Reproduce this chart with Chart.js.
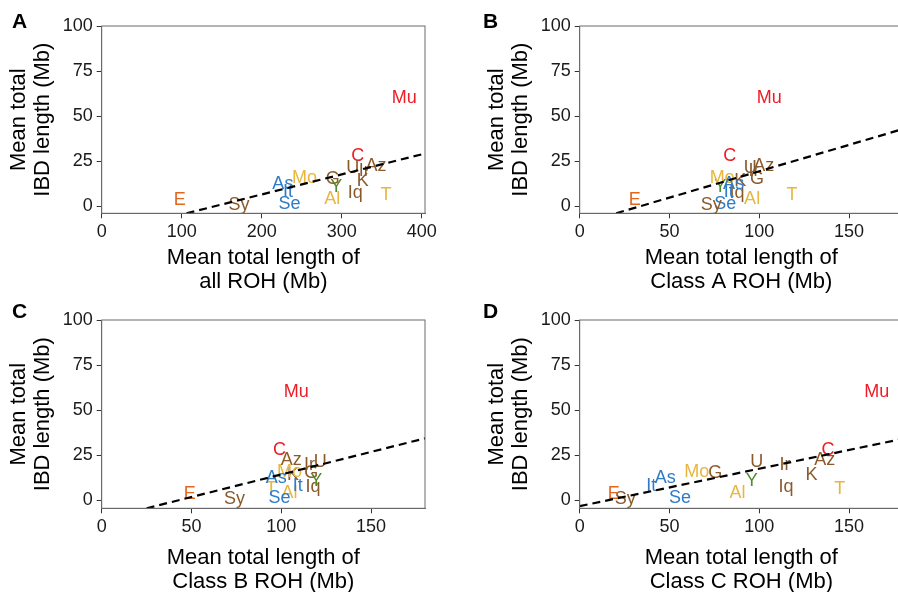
<!DOCTYPE html>
<html>
<head>
<meta charset="utf-8">
<script src="https://cdn.jsdelivr.net/npm/chart.js@4.4.0/dist/chart.umd.min.js"></script>
<style>
  body { margin: 0; width: 898px; height: 592px; overflow: hidden; background: #fff; position: relative;
         font-family: "Liberation Sans", Arial, sans-serif; }
  canvas { position: absolute; }
  .letter { position: absolute; font-size: 21px; font-weight: bold; line-height: 1; color: #000; }
</style>
</head>
<body>
<canvas id="chartA" width="449" height="296" style="left:0;top:0"></canvas>
<canvas id="chartB" width="449" height="296" style="left:478px;top:0"></canvas>
<canvas id="chartC" width="449" height="300" style="left:0;top:296px"></canvas>
<canvas id="chartD" width="449" height="300" style="left:478px;top:296px"></canvas>
<div class="letter" style="left:12px;top:10px">A</div>
<div class="letter" style="left:483px;top:10px">B</div>
<div class="letter" style="left:12px;top:300px">C</div>
<div class="letter" style="left:483px;top:300px">D</div>
<script>
// --- DATA ---
const popCodes = ['Mu', 'C', 'U', 'Az', 'Ir', 'K', 'Iq', 'T', 'G', 'Y', 'Al', 'Mo', 'As', 'It', 'Se', 'Sy', 'E'];
const popColors = ['#ee1c25', '#ee1c25', '#8b5a2b', '#8b5a2b', '#8b5a2b', '#8b5a2b', '#8b5a2b', '#e8b63e',
                   '#8b5a2b', '#4f8a2b', '#e8b63e', '#e8b63e', '#2f7bc6', '#2f7bc6', '#2f7bc6', '#8b5a2b', '#e4661e'];

// mean total IBD length (Mb), same for every panel
const ibdLength = [60.1, 27.9, 21.2, 22.5, 19.5, 13.8, 7.2, 6.3, 15.3, 10.5, 3.7, 15.5, 12.2, 7.8, 1.2, 0.4, 3.4];

// mean total ROH lengths (Mb)
const allRoh  = [378.2, 320, 313.7, 342.9, 328, 326.2, 317, 355.3, 288.8, 293, 288, 253.5, 226.4, 232.7, 234.8, 171.6, 97.6];
const classA  = [105.6, 83.5, 95, 102.5, 97, 89.4, 87.6, 118.2, 98.7, 78.3, 96, 79.3, 85.7, 83, 81.1, 73.2, 30.6];
const classB  = [108.3, 99, 121.7, 105.6, 115.7, 106.5, 117.6, 94.4, 116.7, 119.4, 104.6, 104.6, 97.2, 109.2, 99, 74, 49];
const classC  = [165.4, 138.3, 98.6, 136.5, 114.3, 129.1, 114.8, 144.8, 75.4, 95.8, 87.8, 65.2, 47.6, 39.8, 55.9, 25.4, 18.9];

// regression line end points
const fitAllX = [106, 404],  fitAllY = [-4, 29.2];
const fitAX   = [20.3, 180], fitAY   = [-4, 42.8];
const fitBX   = [25, 180],   fitBY   = [-4.5, 34.3];
const fitCX   = [0, 180],    fitCY   = [-3.3, 34.1];

const yTicks = [0, 25, 50, 75, 100];
const xTicksAll = [0, 100, 200, 300, 400];
const xTicksClass = [0, 50, 100, 150];

// --- PLUGINS ---
const textLabels = {
    id: 'textLabels',
    beforeDatasetsDraw(chart) {
        const ctx = chart.ctx;
        const meta = chart.getDatasetMeta(0);
        ctx.save();
        ctx.font = '18px "Liberation Sans", Arial, sans-serif';
        ctx.textAlign = 'center';
        ctx.textBaseline = 'middle';
        meta.data.forEach((pt, i) => {
            ctx.fillStyle = popColors[i];
            ctx.fillText(popCodes[i], pt.x, pt.y);
        });
        ctx.restore();
    }
};

const frame = {
    id: 'frame',
    afterDraw(chart) {
        const { ctx, chartArea: a } = chart;
        ctx.save();
        ctx.strokeStyle = '#6a6a6a';
        ctx.lineWidth = 1;
        ctx.strokeRect(a.left, a.top, a.right - a.left, a.bottom - a.top);
        ctx.restore();
    }
};

function buildPanel(id, xVals, fitX, fitY, xMax, xTicks, xTitle, padTop, xAxisH, yMin) {
    const points = xVals.map((x, i) => ({ x: x, y: ibdLength[i] }));
    const fit = fitX.map((x, i) => ({ x: x, y: fitY[i] }));
    const tickFont = { family: '"Liberation Sans", Arial, sans-serif', size: 18 };
    const titleFont = { family: '"Liberation Sans", Arial, sans-serif', size: 22, lineHeight: 1.1 };
    new Chart(document.getElementById(id), {
        type: 'scatter',
        data: {
            datasets: [
                { data: points, pointRadius: 0, pointHoverRadius: 0 },
                { type: 'line', data: fit, borderColor: '#000', borderWidth: 2.2, borderDash: [8, 5],
                  pointRadius: 0, fill: false }
            ]
        },
        options: {
            responsive: false,
            animation: false,
            devicePixelRatio: 1,
            layout: { padding: { left: 0, top: padTop, right: 24, bottom: 0 } },
            plugins: { legend: { display: false }, tooltip: { enabled: false } },
            scales: {
                x: {
                    type: 'linear', min: 0, max: xMax,
                    afterBuildTicks: s => { s.ticks = xTicks.map(v => ({ value: v })); },
                    afterFit: s => { s.height = xAxisH; },
                    grid: { drawOnChartArea: false, drawTicks: true, tickLength: 5, tickColor: '#333' },
                    border: { display: true, color: '#6a6a6a' },
                    ticks: { font: tickFont, color: '#1a1a1a', padding: 3, maxRotation: 0 },
                    title: { display: true, text: xTitle, font: titleFont, color: '#000',
                             padding: { top: 0, bottom: 1.7 } }
                },
                y: {
                    type: 'linear', min: yMin, max: 100,
                    afterBuildTicks: s => { s.ticks = yTicks.map(v => ({ value: v })); },
                    afterFit: s => { s.width = 101.7; },
                    grid: { drawOnChartArea: false, drawTicks: true, tickLength: 5, tickColor: '#333' },
                    border: { display: true, color: '#6a6a6a' },
                    ticks: { font: tickFont, color: '#1a1a1a', padding: 4 },
                    title: { display: true, text: ['Mean total', 'IBD length (Mb)'], font: titleFont, color: '#000',
                             padding: { top: 7, bottom: 0 } }
                }
            }
        },
        plugins: [textLabels, frame]
    });
}

buildPanel('chartA', allRoh, fitAllX, fitAllY, 404, xTicksAll, ['Mean total length of', 'all ROH (Mb)'], 26, 82.7, -4);
buildPanel('chartB', classA, fitAX, fitAY, 180, xTicksClass, ['Mean total length of', 'Class A ROH (Mb)'], 26, 82.7, -4);
buildPanel('chartC', classB, fitBX, fitBY, 180, xTicksClass, ['Mean total length of', 'Class B ROH (Mb)'], 24, 87.7, -4.5);
buildPanel('chartD', classC, fitCX, fitCY, 180, xTicksClass, ['Mean total length of', 'Class C ROH (Mb)'], 24, 87.7, -4.5);
</script>
</body>
</html>
